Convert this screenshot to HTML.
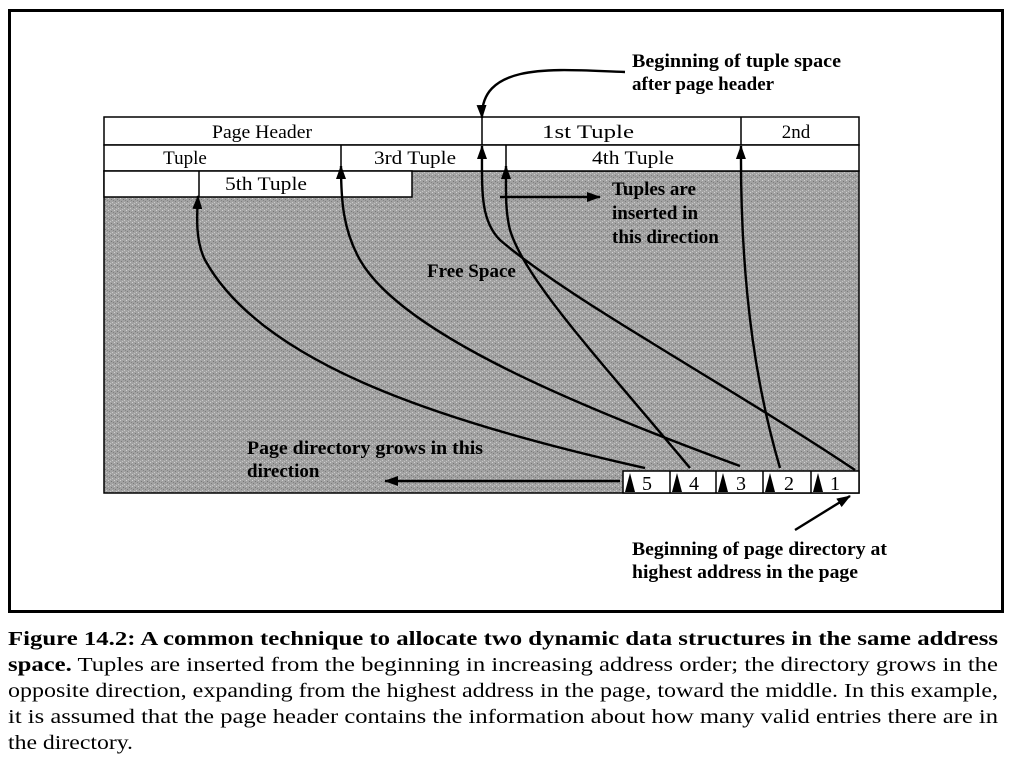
<!DOCTYPE html>
<html><head><meta charset="utf-8"><style>
html,body{margin:0;padding:0;background:#fff;}
svg{display:block;}
text{font-family:"Liberation Serif",serif;}
</style></head><body>
<svg width="1013" height="772" viewBox="0 0 1013 772" xmlns="http://www.w3.org/2000/svg">
<defs>
<marker id="ah" markerWidth="14" markerHeight="14" refX="13" refY="7" orient="auto" markerUnits="userSpaceOnUse">
<path d="M0,2 L14,7 L0,12 z" fill="#000"/></marker>
<pattern id="noise" width="6" height="6" patternUnits="userSpaceOnUse">
<rect width="6" height="6" fill="#a2a2a2"/>
<rect x="0" y="0" width="1" height="1" fill="#d0d0d0"/><rect x="3" y="1" width="1" height="1" fill="#777"/>
<rect x="1" y="3" width="1" height="1" fill="#7c7c7c"/><rect x="4" y="4" width="1" height="1" fill="#cacaca"/>
<rect x="2" y="5" width="1" height="1" fill="#c4c4c4"/><rect x="5" y="2" width="1" height="1" fill="#858585"/>
</pattern>
</defs>
<rect x="9.5" y="10.5" width="993" height="601" fill="#fff" stroke="#000" stroke-width="3"/>
<rect x="104" y="171" width="755" height="322" fill="url(#noise)" stroke="#000" stroke-width="1.5"/>
<g fill="#fff" stroke="#000" stroke-width="1.5">
<rect x="104" y="117" width="755" height="28"/>
<rect x="104" y="145" width="755" height="26"/>
<rect x="104" y="171" width="308" height="26"/>
</g>
<g stroke="#000" stroke-width="1.5">
<line x1="482" y1="117" x2="482" y2="145"/><line x1="741" y1="117" x2="741" y2="145"/>
<line x1="341" y1="145" x2="341" y2="171"/><line x1="506" y1="145" x2="506" y2="171"/>
<line x1="199" y1="171" x2="199" y2="197"/>
</g>
<g font-size="19" text-anchor="middle" fill="#000">
<text x="262" y="138" textLength="100" lengthAdjust="spacingAndGlyphs">Page Header</text>
<text x="588" y="138" textLength="92" lengthAdjust="spacingAndGlyphs">1st Tuple</text>
<text x="796" y="138">2nd</text>
<text x="185" y="164">Tuple</text>
<text x="415" y="164" textLength="82" lengthAdjust="spacingAndGlyphs">3rd Tuple</text>
<text x="633" y="164" textLength="82" lengthAdjust="spacingAndGlyphs">4th Tuple</text>
<text x="266" y="190" textLength="82" lengthAdjust="spacingAndGlyphs">5th Tuple</text>
</g>
<rect x="623" y="471" width="236" height="22" fill="#fff" stroke="#000" stroke-width="1.5"/>
<g stroke="#000" stroke-width="1.5">
<line x1="670" y1="471" x2="670" y2="493"/><line x1="716" y1="471" x2="716" y2="493"/>
<line x1="763" y1="471" x2="763" y2="493"/><line x1="811" y1="471" x2="811" y2="493"/>
</g>
<g fill="#000">
<path d="M625,492 L630,473 L635,492z"/><path d="M672,492 L677,473 L682,492z"/>
<path d="M718,492 L723,473 L728,492z"/><path d="M765,492 L770,473 L775,492z"/>
<path d="M813,492 L818,473 L823,492z"/>
</g>
<g font-size="20" fill="#000">
<text x="642" y="490">5</text><text x="689" y="490">4</text><text x="736" y="490">3</text><text x="784" y="490">2</text><text x="830" y="490">1</text>
</g>
<g fill="none" stroke="#000" stroke-width="2.4" marker-end="url(#ah)">
<path d="M645,468 C430,420 260,360 205,260 C195,240 197,215 198,196"/>
<path d="M740,466 C560,400 400,330 360,260 C343,230 341,200 341,166"/>
<path d="M855,470 C720,380 570,300 500,240 C480,220 482,190 482,146"/>
<path d="M690,468 C600,360 525,280 510,230 C505,210 506,190 506,166"/>
<path d="M780,468 C760,400 740,300 741,146"/>
<path d="M500,197 L600,197"/>
<path d="M620,481 L385,481"/>
<path d="M625,72 C560,70 480,60 482,118"/>
<path d="M795,530 L850,496"/>
</g>
<g font-size="19" font-weight="bold" fill="#000">
<text x="612" y="195">Tuples are</text>
<text x="612" y="219">inserted in</text>
<text x="612" y="243">this direction</text>
<text x="427" y="277">Free Space</text>
<text x="247" y="454" textLength="236" lengthAdjust="spacingAndGlyphs">Page directory grows in this</text>
<text x="247" y="477">direction</text>
<text x="632" y="67" textLength="209" lengthAdjust="spacingAndGlyphs">Beginning of tuple space</text>
<text x="632" y="90">after page header</text>
<text x="632" y="555" textLength="255" lengthAdjust="spacingAndGlyphs">Beginning of page directory at</text>
<text x="632" y="578" textLength="226" lengthAdjust="spacingAndGlyphs">highest address in the page</text>
</g>
<g font-size="20" fill="#000">
<text x="8" y="645" font-weight="bold" textLength="990" lengthAdjust="spacingAndGlyphs">Figure 14.2: A common technique to allocate two dynamic data structures in the same address</text>
<text x="8" y="671" textLength="990" lengthAdjust="spacingAndGlyphs"><tspan font-weight="bold">space.</tspan>    Tuples are inserted from the beginning in increasing address order; the directory grows in the</text>
<text x="8" y="697" textLength="990" lengthAdjust="spacingAndGlyphs">opposite direction, expanding from the highest address in the page, toward the middle. In this example,</text>
<text x="8" y="723" textLength="990" lengthAdjust="spacingAndGlyphs">it is assumed that the page header contains the information about how many valid entries there are in</text>
<text x="8" y="749" textLength="125" lengthAdjust="spacingAndGlyphs">the directory.</text>
</g>
</svg>
</body></html>
